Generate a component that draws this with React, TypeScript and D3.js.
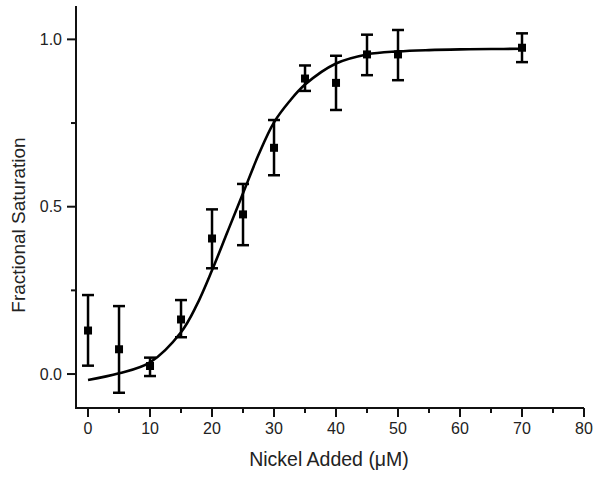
import React from "react";
import * as d3 from "d3";

const nickel = [0, 5, 10, 15, 20, 25, 30, 35, 40, 45, 50, 70];
const saturation = [0.13, 0.074, 0.024, 0.163, 0.405, 0.477, 0.676, 0.883, 0.87, 0.955, 0.955, 0.975];
const errorHigh = [0.236, 0.203, 0.049, 0.221, 0.492, 0.568, 0.759, 0.922, 0.951, 1.014, 1.028, 1.018];
const errorLow = [0.025, -0.056, -0.006, 0.11, 0.316, 0.385, 0.594, 0.846, 0.789, 0.893, 0.878, 0.932];

const fitX = [0, 5, 10, 15, 17.5, 20, 22.5, 25, 27.5, 30, 32.5, 35, 40, 45, 50, 55, 60, 65, 70];
const fitY = [-0.018, 0.002, 0.035, 0.125, 0.205, 0.31, 0.425, 0.54, 0.655, 0.752, 0.815, 0.865, 0.928, 0.955, 0.964, 0.968, 0.97, 0.971, 0.972];

const xMajor = [0, 10, 20, 30, 40, 50, 60, 70, 80];
const xMinor = [5, 15, 25, 35, 45, 55, 65, 75];
const yMajor = [0, 0.5, 1.0];
const yMinor = [0.25, 0.75];

const xTitle = "Nickel Added (μM)";
const yTitle = "Fractional Saturation";

export default function App() {
  const W = 602, H = 478;
  const left = 76, right = 584, top = 6, bottom = 408;
  const x = d3.scaleLinear().domain([-1.94, 80]).range([left, right]);
  const y = d3.scaleLinear().domain([-0.1, 1.1]).range([407.5, 5.9]);
  const font = "'Liberation Sans', Arial, sans-serif";

  const line = d3.line<number>()
    .x((_, i) => x(fitX[i]))
    .y((d) => y(d))
    .curve(d3.curveCatmullRom.alpha(0.5));

  const capW = 6;
  const sq = 4;

  return (
    <svg width={W} height={H} style={{ position: "absolute", left: 0, top: 0, background: "#fff" }}>
      <rect width={W} height={H} fill="#fff" />
      {/* axes */}
      <line x1={left} y1={top} x2={left} y2={bottom} stroke="#111" strokeWidth={2} />
      <line x1={left - 1} y1={bottom} x2={right} y2={bottom} stroke="#111" strokeWidth={2} />
      {xMajor.map((v) => (
        <g key={"xm" + v}>
          <line x1={x(v)} x2={x(v)} y1={bottom} y2={bottom + 9} stroke="#111" strokeWidth={2} />
          <text x={x(v)} y={434} textAnchor="middle" fontFamily={font} fontSize={16} fill="#222">{v}</text>
        </g>
      ))}
      {xMinor.map((v) => (
        <line key={"xn" + v} x1={x(v)} x2={x(v)} y1={bottom} y2={bottom + 5} stroke="#111" strokeWidth={2} />
      ))}
      {yMajor.map((v) => (
        <g key={"ym" + v}>
          <line x1={left - 9} x2={left} y1={y(v)} y2={y(v)} stroke="#111" strokeWidth={2} />
          <text x={62} y={y(v) + 5.5} textAnchor="end" fontFamily={font} fontSize={16} fill="#222">{v.toFixed(1)}</text>
        </g>
      ))}
      {yMinor.map((v) => (
        <line key={"yn" + v} x1={left - 5} x2={left} y1={y(v)} y2={y(v)} stroke="#111" strokeWidth={2} />
      ))}
      <text x={329} y={466} textAnchor="middle" fontFamily={font} fontSize={19.5} fill="#222">{xTitle}</text>
      <text transform={`translate(25,${225}) rotate(-90)`} textAnchor="middle" fontFamily={font} fontSize={19} fill="#222">{yTitle}</text>

      {/* fit curve */}
      <path d={line(fitY) || ""} fill="none" stroke="#000" strokeWidth={2.6} />

      {/* error bars and points */}
      {nickel.map((v, i) => (
        <g key={"p" + i}>
          <line x1={x(v)} x2={x(v)} y1={y(errorLow[i])} y2={y(errorHigh[i])} stroke="#000" strokeWidth={2.5} />
          <line x1={x(v) - capW} x2={x(v) + capW} y1={y(errorHigh[i])} y2={y(errorHigh[i])} stroke="#000" strokeWidth={2.5} />
          <line x1={x(v) - capW} x2={x(v) + capW} y1={y(errorLow[i])} y2={y(errorLow[i])} stroke="#000" strokeWidth={2.5} />
          <rect x={x(v) - sq} y={y(saturation[i]) - sq} width={sq * 2} height={sq * 2} fill="#000" />
        </g>
      ))}
    </svg>
  );
}
